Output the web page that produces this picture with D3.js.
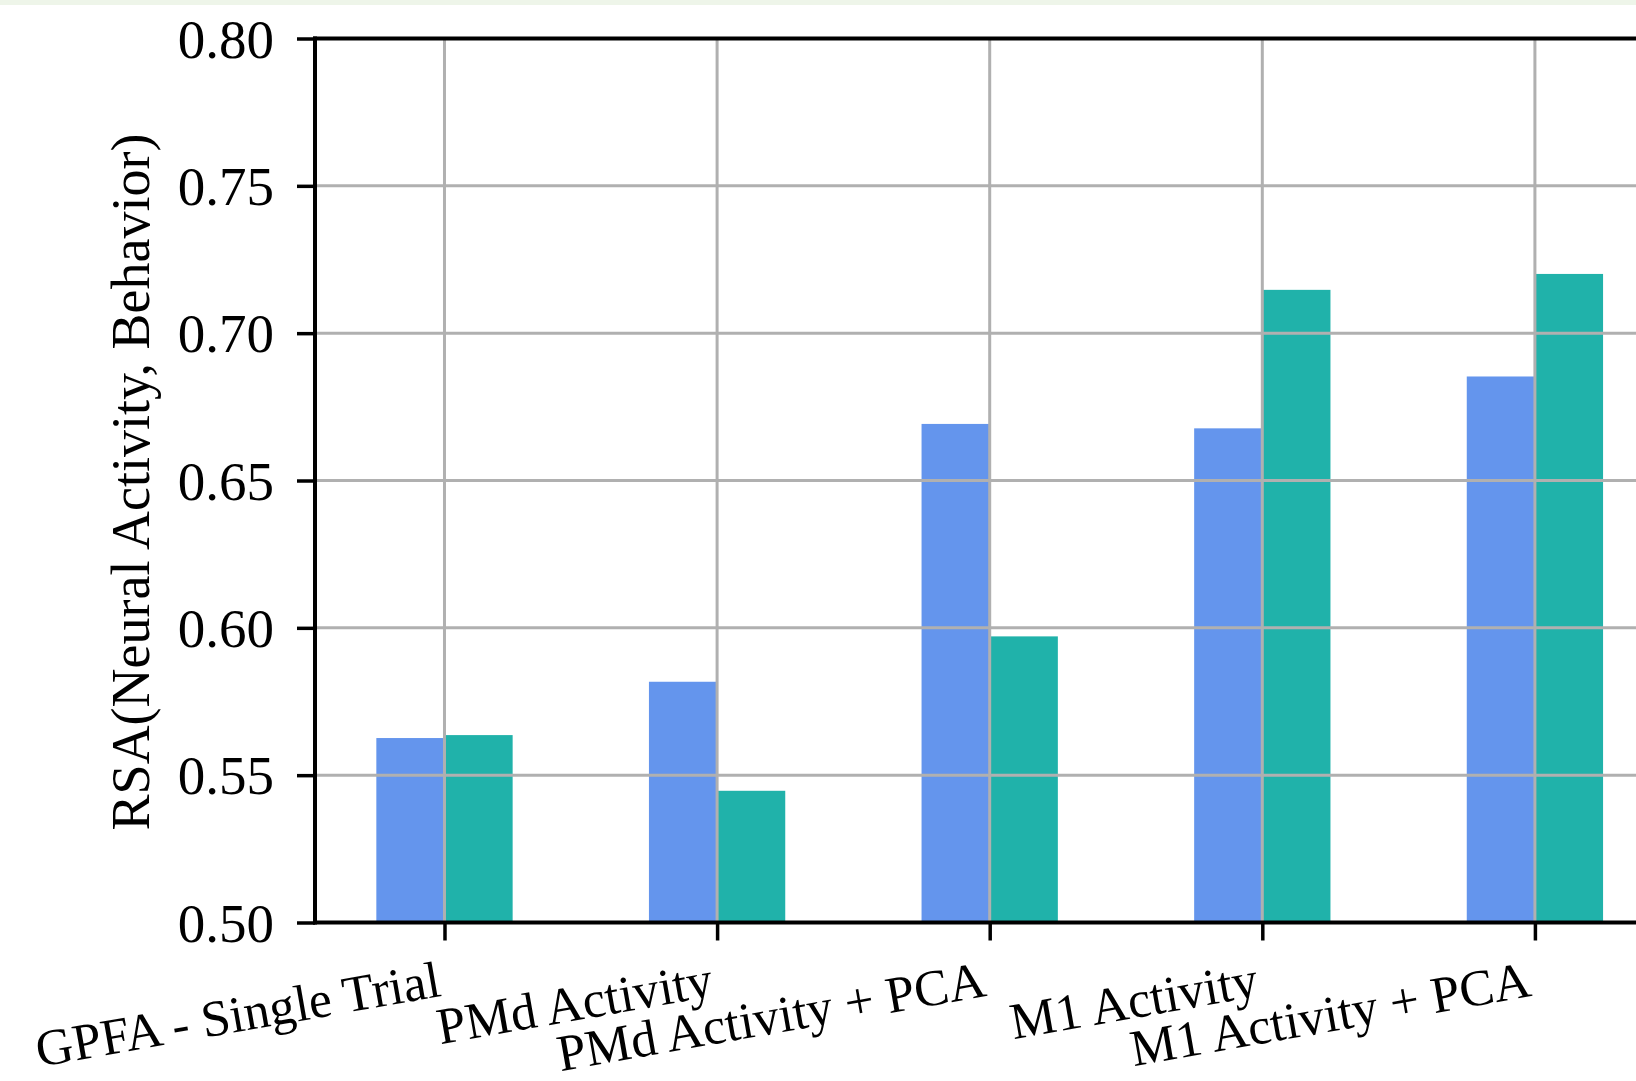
<!DOCTYPE html>
<html>
<head>
<meta charset="utf-8">
<script src="https://cdn.jsdelivr.net/npm/d3@7"></script>
<style>
  html, body { margin: 0; padding: 0; background: #ffffff; }
  svg { display: block; }
  text { font-family: "Liberation Serif", "DejaVu Serif", serif; fill: #000; }
</style>
</head>
<body>
<svg id="chart" width="1636" height="1081"></svg>
<script>
// ---- data ----
const categories = ["GPFA - Single Trial", "PMd Activity", "PMd Activity + PCA", "M1 Activity", "M1 Activity + PCA"];
const seriesA = [0.5626, 0.5817, 0.6692, 0.6677, 0.6853];   // blue
const seriesB = [0.5636, 0.5447, 0.5971, 0.7147, 0.7201];   // teal
const yTicks = [0.50, 0.55, 0.60, 0.65, 0.70, 0.75, 0.80];
const yLabel = "RSA(Neural Activity, Behavior)";

// ---- layout ----
const W = 1636, H = 1081;
const svg = d3.select("#chart");
const plotLeft = 315, plotRight = 1664.4, plotTop = 38.5, plotBottom = 922.5;

svg.append("rect").attr("x", 0).attr("y", 0).attr("width", W).attr("height", 5).attr("fill", "#eef5e9");

const x = d3.scaleLinear().domain([-0.475, 4.475]).range([plotLeft, plotRight]);
const y = d3.scaleLinear().domain([0.50, 0.80]).range([plotBottom, plotTop]);
const barW = x(0.25) - x(0);

const bars = svg.append("g");
categories.forEach((c, i) => {
  bars.append("rect")
    .attr("x", x(i - 0.25)).attr("y", y(seriesA[i]))
    .attr("width", barW).attr("height", y(0.5) - y(seriesA[i]))
    .attr("fill", "#6495ED");
  bars.append("rect")
    .attr("x", x(i)).attr("y", y(seriesB[i]))
    .attr("width", barW).attr("height", y(0.5) - y(seriesB[i]))
    .attr("fill", "#20B2AA");
});

// grid (drawn above bars)
const grid = svg.append("g").attr("stroke", "#b0b0b0").attr("stroke-width", 3);
yTicks.forEach(t => {
  grid.append("line").attr("x1", plotLeft).attr("x2", W).attr("y1", y(t)).attr("y2", y(t));
});
categories.forEach((c, i) => {
  grid.append("line").attr("x1", x(i)).attr("x2", x(i)).attr("y1", plotTop).attr("y2", plotBottom);
});

// axes
const yAxis = d3.axisLeft(y).tickValues(yTicks).tickFormat(d3.format(".2f")).tickSize(18).tickPadding(23);
const gy = svg.append("g").attr("transform", `translate(${plotLeft},0)`).call(yAxis);
gy.select(".domain").remove();
gy.selectAll(".tick line").attr("stroke", "#000").attr("stroke-width", 3.5);
gy.selectAll(".tick text").attr("font-size", 55).attr("font-family", "Liberation Serif").attr("fill", "#000").attr("dy", "0.34em");

const xAxis = d3.axisBottom(x).tickValues(d3.range(categories.length)).tickFormat("").tickSize(18);
const gx = svg.append("g").attr("transform", `translate(0,${plotBottom})`).call(xAxis);
gx.select(".domain").remove();
gx.selectAll(".tick line").attr("stroke", "#000").attr("stroke-width", 3.5);

// spines
svg.append("line").attr("x1", plotLeft).attr("x2", plotLeft).attr("y1", plotTop - 2).attr("y2", plotBottom + 2)
  .attr("stroke", "#000").attr("stroke-width", 4);
svg.append("line").attr("x1", plotLeft - 2).attr("x2", W).attr("y1", plotTop).attr("y2", plotTop)
  .attr("stroke", "#000").attr("stroke-width", 4);
svg.append("line").attr("x1", plotLeft - 2).attr("x2", W).attr("y1", plotBottom).attr("y2", plotBottom)
  .attr("stroke", "#000").attr("stroke-width", 4);

// rotated x labels: right edge of rotated box at tick, top at fixed y
const labelTop = plotBottom + 18 + 10;
categories.forEach((c, i) => {
  const g = svg.append("g").attr("transform", `translate(${x(i)},${labelTop})`);
  const t = g.append("text").attr("text-anchor", "end").attr("font-size", 51.5)
    .attr("transform", "rotate(-10)").text(c);
  const r = t.node().getBoundingClientRect();
  const dx = x(i) - r.right, dy = labelTop - r.top;
  g.attr("transform", `translate(${x(i) + dx},${labelTop + dy})`);
});

// y label
svg.append("text").attr("text-anchor", "middle").attr("font-size", 54)
  .attr("transform", "translate(149,482) rotate(-90)").text(yLabel);
</script>
</body>
</html>
